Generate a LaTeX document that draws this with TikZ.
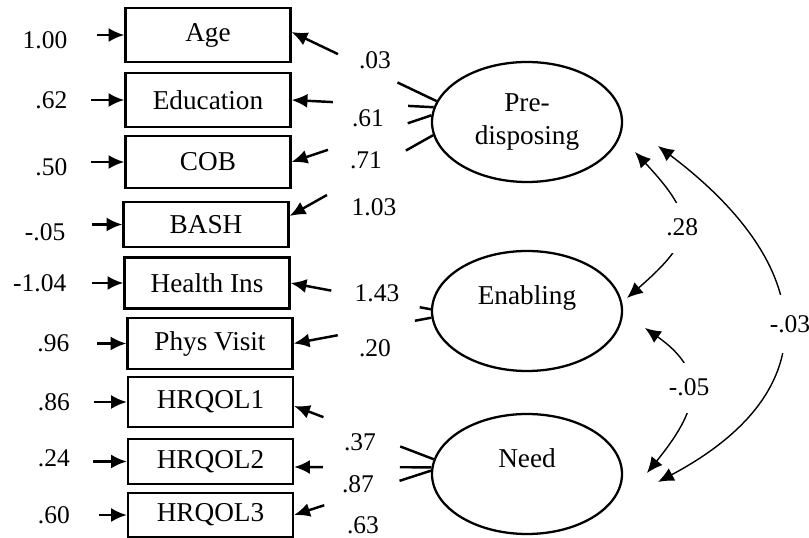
\documentclass[tikz,border=0pt]{standalone}
\usepackage{fontspec}
\setmainfont{Liberation Serif}
\usetikzlibrary{arrows.meta,positioning,shapes,calc}

\begin{document}
\begin{tikzpicture}[
        >={Latex[length=9pt,width=8pt]},
        obs/.style={draw, line width=1.3pt, minimum width=3.3cm, minimum height=1.06cm,
                    inner sep=0pt, font=\fontsize{15.5}{18.7}\selectfont},
        lat/.style={draw, ellipse, line width=1.3pt, minimum width=3.8cm, minimum height=2.4cm,
                    align=center, font=\fontsize{15.5}{18.7}\selectfont},
        num/.style={inner sep=1pt, font=\fontsize{14.5}{16}\selectfont},
        load/.style={line width=1.4pt},
        cov/.style={line width=0.8pt, <->}
    ]
    \useasboundingbox (0,0) rectangle (16.18,10.76);

    % observed variables
    \node [obs, minimum height=1.08cm] (age) at (4.16,10.06) {Age};
    \node [obs, minimum height=1.08cm] (edu) at (4.16,8.76) {Education};
    \node [obs, minimum height=1.04cm] (cob) at (4.16,7.52) {COB};
    \node [obs, minimum height=0.9cm] (bash) at (4.12,6.27) {BASH};
    \node [obs, minimum height=1.02cm] (hins) at (4.14,5.10) {Health Ins};
    \node [obs, minimum height=1.02cm] (phys) at (4.20,3.89) {Phys Visit};
    \node [obs, minimum height=1.0cm] (hrq1) at (4.21,2.72) {HRQOL1};
    \node [obs, minimum height=0.9cm] (hrq2) at (4.21,1.53) {HRQOL2};
    \node [obs, minimum height=0.88cm] (hrq3) at (4.21,0.46) {HRQOL3};

    % latent variables
    \node [lat] (pred) at (10.54,8.32) {Pre-\\disposing};
    \node [lat] (enab) at (10.54,4.54) {Enabling\\\mbox{}};
    \node [lat] (need) at (10.54,1.28) {Need\\\mbox{}};

    % intercepts
    \node [num, left=1.1cm of age, yshift=-0.1cm] (iage) {1.00};
    \node [num, left=1.1cm of edu] (iedu) {.62};
    \node [num, left=1.1cm of cob, yshift=-0.1cm] (icob) {.50};
    \node [num, left=1.1cm of bash, yshift=-0.15cm] (ibash) {-.05};
    \node [num, left=1.1cm of hins] (ihins) {-1.04};
    \node [num, left=1.1cm of phys] (iphys) {.96};
    \node [num, left=1.1cm of hrq1] (ihrq1) {.86};
    \node [num, left=1.1cm of hrq2, yshift=0.07cm] (ihrq2) {.24};
    \node [num, left=1.1cm of hrq3] (ihrq3) {.60};

    \draw [load,->] ([xshift=-0.55cm]age.west) -- (age.west);
    \draw [load,->] ([xshift=-0.66cm]edu.west) -- (edu.west);
    \draw [load,->] ([xshift=-0.66cm]cob.west) -- (cob.west);
    \draw [load,->] ([xshift=-0.6cm]bash.west) -- (bash.west);
    \draw [load,->] ([xshift=-0.62cm]hins.west) -- (hins.west);
    \draw [load,->] ([xshift=-0.58cm]phys.west) -- (phys.west);
    \draw [load,->] ([xshift=-0.66cm]hrq1.west) -- (hrq1.west);
    \draw [load,->] ([xshift=-0.68cm]hrq2.west) -- (hrq2.west);
    \draw [load,->] ([xshift=-0.56cm]hrq3.west) -- (hrq3.west);

    % loadings
    \coordinate (agein) at ([yshift=0.06cm]age.east);
    \coordinate (bashin) at ([yshift=0.17cm]bash.east);
    \coordinate (hrq1in) at ([yshift=-0.08cm]hrq1.east);
    \coordinate (hrq2in) at ([yshift=-0.11cm]hrq2.east);

    \draw [load] (pred.167) -- ($(pred.167)!0.27!(agein)$);
    \draw [load,->] ($(pred.167)!0.68!(agein)$) -- (agein);
    \draw [load] (pred.171) -- ($(pred.171)!0.18!(edu.east)$);
    \draw [load,->] ($(pred.171)!0.71!(edu.east)$) -- (edu.east);
    \draw [load] (pred.176) -- ($(pred.176)!0.17!(cob.east)$);
    \draw [load,->] ($(pred.176)!0.74!(cob.east)$) -- (cob.east);
    \draw [load] (pred.188) -- ($(pred.188)!0.19!(bashin)$);
    \draw [load,->] ($(pred.188)!0.74!(bashin)$) -- (bashin);

    \draw [load] (enab.179) -- ($(enab.179)!0.08!(hins.east)$);
    \draw [load,->] ($(enab.179)!0.71!(hins.east)$) -- (hins.east);
    \draw [load] (enab.184) -- ($(enab.184)!0.12!(phys.east)$);
    \draw [load,->] ($(enab.184)!0.68!(phys.east)$) -- (phys.east);

    \draw [load] (need.171) -- ($(need.171)!0.24!(hrq1in)$);
    \draw [load,->] ($(need.171)!0.79!(hrq1in)$) -- (hrq1in);
    \draw [load] (need.176) -- ($(need.176)!0.23!(hrq2in)$);
    \draw [load,->] ($(need.176)!0.79!(hrq2in)$) -- (hrq2in);
    \draw [load] (need.178) -- ($(need.178)!0.23!(hrq3.east)$);
    \draw [load,->] ($(need.178)!0.78!(hrq3.east)$) -- (hrq3.east);

    \node [num] (lage) at (7.50,9.56) {.03};
    \node [num] (ledu) at (7.36,8.40) {.61};
    \node [num] (lcob) at (7.32,7.56) {.71};
    \node [num] (lbash) at (7.48,6.62) {1.03};
    \node [num] (lhins) at (7.54,4.90) {1.43};
    \node [num] (lphys) at (7.50,3.80) {.20};
    \node [num] (lhrq1) at (7.20,1.92) {.37};
    \node [num] (lhrq2) at (7.16,1.08) {.87};
    \node [num] (lhrq3) at (7.26,0.26) {.63};

    % covariances
    \draw [cov] ([shift={(2.16,-0.60)}]pred.center) to[out=-47,in=41,looseness=1.6]
        node [num, fill=white, minimum height=1cm, xshift=0.04cm] (cpe) {.28}
        ([shift={(2.0,0.26)}]enab.center);
    \draw [cov] ([shift={(2.36,-0.34)}]enab.center) to[out=-35,in=51,looseness=1.4]
        node [num, fill=white, minimum height=1cm, pos=0.45] (cen) {-.05}
        ([shift={(2.4,0.02)}]need.center);
    \draw [cov] ([shift={(2.62,-0.48)}]pred.center) to[out=-37,in=28,looseness=1.5]
        node [num, fill=white, minimum height=1.16cm, xshift=0.16cm] (cpn) {-.03}
        ([shift={(2.62,-0.16)}]need.center);
\end{tikzpicture}
\end{document}
